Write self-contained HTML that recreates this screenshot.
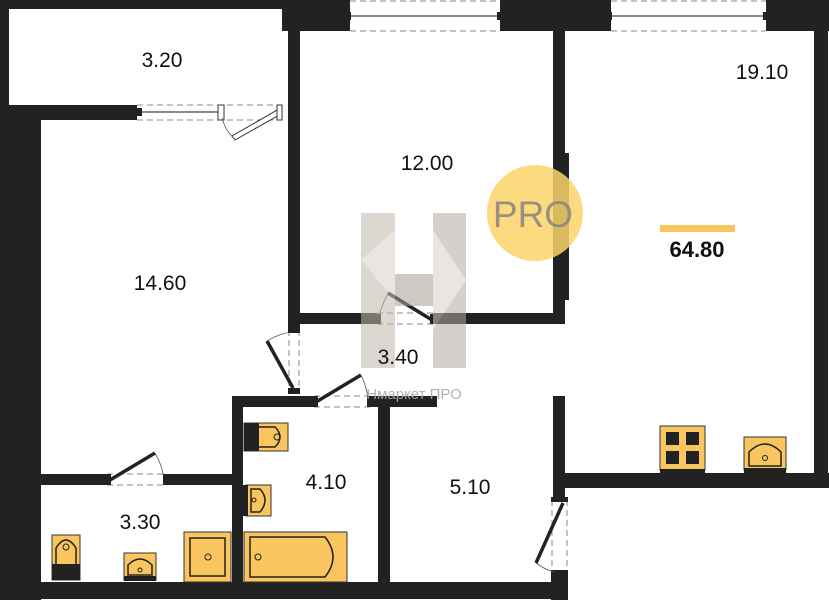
<!DOCTYPE html>
<html><head><meta charset="utf-8"><style>
html,body{margin:0;padding:0;background:#fff;}
svg{display:block;}
text{font-family:"Liberation Sans","DejaVu Sans",sans-serif;}
</style></head><body>
<svg width="829" height="600" viewBox="0 0 829 600" xmlns="http://www.w3.org/2000/svg">
<rect width="829" height="600" fill="#fff"/>
<g fill="#222">
<!-- outer top-left frame -->
<rect x="0" y="0" width="350" height="9"/>
<rect x="0" y="0" width="9" height="120"/>
<rect x="282" y="0" width="68" height="31"/>
<rect x="288" y="0" width="12" height="330"/>
<!-- top blocks -->
<rect x="500" y="0" width="111" height="31"/>
<rect x="766" y="0" width="63" height="31"/>
<rect x="814" y="0" width="14" height="488"/>
<!-- wall below 3.20 -->
<rect x="0" y="105" width="137" height="15"/>
<rect x="0" y="105" width="41" height="495"/>
<!-- 12.00 bottom wall -->
<rect x="288" y="313" width="89" height="11"/>
<rect x="433" y="313" width="132" height="11"/>
<!-- wall 12/19.10 -->
<rect x="553" y="31" width="12" height="293"/>
<rect x="564" y="153" width="5" height="147"/>
<!-- 19.10 bottom -->
<rect x="553" y="473" width="276" height="15"/>
<rect x="553" y="396" width="12" height="104"/>
<rect x="551" y="570" width="17" height="30"/>
<!-- bottom wall -->
<rect x="0" y="582" width="568" height="17"/>
<!-- 3.30 top wall -->
<rect x="41" y="474" width="66" height="11"/>
<rect x="166" y="474" width="70" height="11"/>
<!-- bath walls -->
<rect x="232" y="396" width="11" height="190"/>
<rect x="232" y="396" width="82" height="11"/>
<rect x="370" y="396" width="67" height="11"/>
<rect x="378" y="400" width="12" height="185"/>
</g>
<!-- windows -->
<g stroke="#888" stroke-dasharray="6,4" fill="none" stroke-width="1">
<line x1="350" y1="1" x2="500" y2="1"/><line x1="350" y1="31" x2="500" y2="31"/>
<line x1="611" y1="1" x2="766" y2="1"/><line x1="611" y1="31" x2="766" y2="31"/>
<line x1="137" y1="105" x2="282" y2="105"/><line x1="137" y1="120" x2="282" y2="120"/>
<line x1="377" y1="313" x2="433" y2="313"/><line x1="377" y1="324" x2="433" y2="324"/>
<line x1="289" y1="330" x2="289" y2="392"/><line x1="299" y1="330" x2="299" y2="392"/>
<line x1="314" y1="396" x2="370" y2="396"/><line x1="314" y1="407" x2="370" y2="407"/>
<line x1="107" y1="474" x2="166" y2="474"/><line x1="107" y1="485" x2="166" y2="485"/>
<line x1="552" y1="500" x2="552" y2="570"/><line x1="567" y1="500" x2="567" y2="570"/>
</g>
<g stroke="#444" stroke-width="1.2">
<line x1="350" y1="16" x2="500" y2="16"/>
<line x1="611" y1="16" x2="766" y2="16"/>
<line x1="137" y1="112" x2="220" y2="112"/>
</g>
<g fill="#222">
<rect x="346" y="12" width="5" height="8"/><rect x="497" y="12" width="5" height="8"/>
<rect x="607" y="12" width="5" height="8"/><rect x="763" y="12" width="5" height="8"/>
<rect x="137" y="108" width="5" height="8"/>
</g>
<!-- door leaves -->
<g stroke="#222" stroke-width="3.5" fill="none">
<line x1="280" y1="112" x2="233" y2="138" stroke="#fff" stroke-width="3"/>
<line x1="432" y1="320" x2="388" y2="293"/>
<line x1="293" y1="388" x2="267" y2="341"/>
<line x1="316" y1="402" x2="361" y2="375"/>
<line x1="110" y1="480" x2="155" y2="453"/>
<line x1="563" y1="503" x2="536" y2="563"/>
</g>
<polygon points="279,109 281,114 235,140 232,136" fill="#fff" stroke="#333" stroke-width="1"/>
<rect x="218" y="105" width="6" height="15" fill="#fff" stroke="#333" stroke-width="1"/>
<rect x="277" y="105" width="5" height="15" fill="#fff" stroke="#333" stroke-width="1"/>
<g stroke="#555" stroke-width="0.8" fill="none">
<path d="M222 118 Q226 132 234 138"/>
<path d="M388 293 Q382 305 378 318"/>
<path d="M267 341 Q280 333 293 332"/>
<path d="M361 375 Q366 385 368 398"/>
<path d="M155 453 Q162 465 164 478"/>
<path d="M536 563 Q545 570 555 572"/>
</g>
<g fill="#222">
<rect x="375" y="314" width="6" height="10"/><rect x="430" y="314" width="6" height="10"/>
<rect x="288" y="328" width="12" height="5"/><rect x="288" y="388" width="12" height="6"/>
<rect x="312" y="396" width="6" height="11"/><rect x="367" y="396" width="6" height="11"/>
<rect x="105" y="474" width="6" height="11"/><rect x="163" y="474" width="6" height="11"/>
<rect x="551" y="497" width="17" height="5"/>
</g>
<!-- watermark H -->
<g opacity="0.55">
<rect x="361" y="213" width="34" height="155" fill="#c2b8ae"/>
<rect x="433" y="213" width="33" height="155" fill="#b3aaa2"/>
<rect x="395" y="274" width="38" height="32" fill="#a89e95"/>
<polygon points="361,260 395,230 395,300" fill="#d8d0c8"/>
<polygon points="433,230 466,280 433,330" fill="#d8d0c8"/>
</g>
<!-- PRO circle -->
<circle cx="535" cy="213" r="48" fill="#fcd46a" opacity="0.85"/>
<text x="533" y="227" font-size="37" fill="#8e8a82" text-anchor="middle" opacity="0.9">PRO</text>
<!-- kitchen -->
<rect x="660" y="426" width="45" height="44" fill="#f8c55e" stroke="#333" stroke-width="1"/>
<rect x="660" y="469" width="45" height="4" fill="#222"/>
<g fill="#222"><rect x="666" y="432" width="13" height="13"/><rect x="686" y="432" width="13" height="13"/><rect x="666" y="451" width="13" height="13"/><rect x="686" y="451" width="13" height="13"/></g>
<rect x="744" y="437" width="42" height="33" fill="#f8c55e" stroke="#333" stroke-width="1"/>
<rect x="744" y="468" width="42" height="5" fill="#222"/>
<path d="M749 466 L749 452 Q765 436 781 452 L781 466 Z" fill="none" stroke="#222" stroke-width="1.5"/>
<circle cx="765" cy="458" r="2.5" fill="none" stroke="#222"/>
<!-- 3.30 fixtures -->
<rect x="52" y="535" width="28" height="45" fill="#f8c55e" stroke="#333"/>
<rect x="52" y="564" width="28" height="16" fill="#222"/>
<path d="M56 564 L56 548 Q66 532 76 548 L76 564" fill="none" stroke="#222" stroke-width="1.5"/>
<circle cx="66" cy="547" r="3" fill="none" stroke="#222"/>
<rect x="124" y="553" width="32" height="27" fill="#f8c55e" stroke="#333"/>
<rect x="124" y="576" width="32" height="5" fill="#222"/>
<path d="M128 575 L128 565 Q140 553 152 565 L152 575 Z" fill="none" stroke="#222" stroke-width="1.5"/>
<circle cx="140" cy="570" r="2" fill="none" stroke="#222"/>
<rect x="184" y="532" width="47" height="50" fill="#f8c55e" stroke="#333"/>
<rect x="190" y="538" width="35" height="38" fill="none" stroke="#222" stroke-width="1.5"/>
<circle cx="208" cy="557" r="3" fill="none" stroke="#222"/>
<!-- 4.10 fixtures -->
<rect x="244" y="532" width="103" height="50" fill="#f8c55e" stroke="#333"/>
<path d="M250 537 L325 537 Q341 557 325 577 L250 577 Z" fill="none" stroke="#222" stroke-width="1.5"/>
<circle cx="258" cy="557" r="3" fill="none" stroke="#222"/>
<rect x="244" y="423" width="44" height="28" fill="#f8c55e" stroke="#333"/>
<rect x="244" y="423" width="15" height="28" fill="#222"/>
<path d="M259 427 L275 427 Q285 437 275 447 L259 447" fill="none" stroke="#222" stroke-width="1.5"/>
<circle cx="277" cy="437" r="3" fill="none" stroke="#222"/>
<rect x="246" y="485" width="25" height="31" fill="#f8c55e" stroke="#333"/>
<rect x="243" y="485" width="5" height="31" fill="#222"/>
<path d="M251 489 L260 489 Q270 500 260 512 L251 512 Z" fill="none" stroke="#222" stroke-width="1.5"/>
<circle cx="254" cy="500" r="2" fill="none" stroke="#222"/>
<!-- labels -->
<g font-size="21" fill="#111" text-anchor="middle">
<text x="162" y="67">3.20</text>
<text x="427" y="170">12.00</text>
<text x="762" y="79">19.10</text>
<text x="160" y="290">14.60</text>
<text x="398" y="364">3.40</text>
<text x="326" y="489">4.10</text>
<text x="470" y="494">5.10</text>
<text x="140" y="529">3.30</text>
</g>
<text x="414" y="399" font-size="15" fill="#aaa" text-anchor="middle" opacity="0.9">Нмаркет ПРО</text>
<rect x="660" y="225" width="75" height="7" fill="#f8c55e"/>
<text x="697" y="257" font-size="22" font-weight="bold" fill="#111" text-anchor="middle">64.80</text>
</svg>
</body></html>
